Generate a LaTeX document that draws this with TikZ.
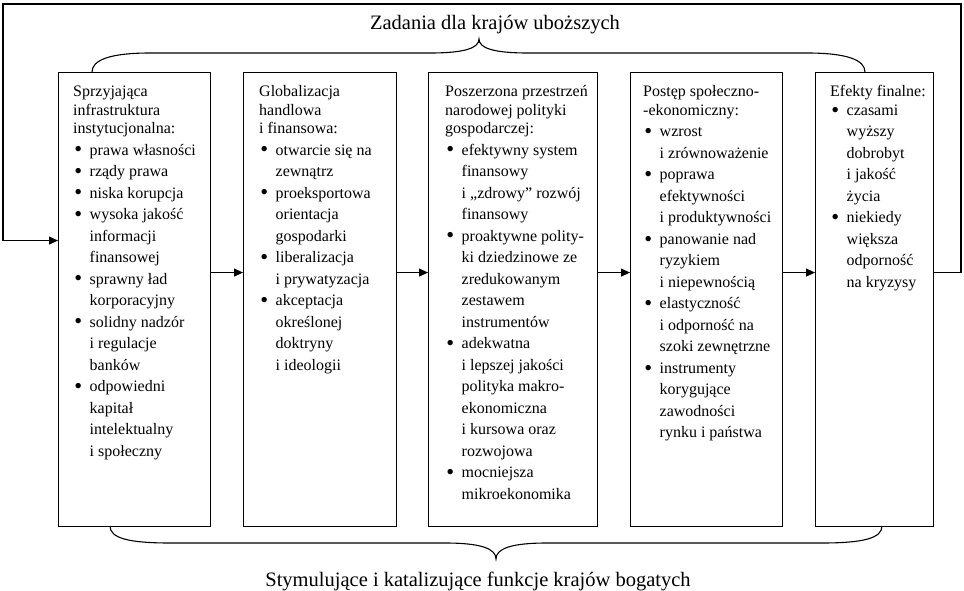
\documentclass[tikz,border=0pt]{standalone}
\usepackage{fontspec}
\setmainfont{Liberation Serif}
\usetikzlibrary{arrows.meta}
\newcommand{\bl}[1]{\makebox[16.5pt][l]{\hspace{1.2pt}\raisebox{-1.8pt}{\scalebox{1.4}{\textbullet}}}#1}
\newcommand{\cl}[1]{\hspace*{16.5pt}#1}
\newcommand{\nl}{\\[3.2pt]}
\newcommand{\boxtext}[1]{\begin{minipage}[t]{200pt}\fontsize{16}{18.3}\selectfont\raggedright #1\end{minipage}}
\tikzset{
  box/.style={draw, line width=1.1pt, anchor=north west, minimum height=454pt, inner sep=0pt},
  txt/.style={anchor=base west, inner sep=0pt},
  arr/.style={line width=1.1pt, -{Triangle[length=9pt,width=8pt]}},
  bracepath/.style={line width=1.1pt},
  lbl/.style={font=\fontsize{20.5}{24}\selectfont, inner sep=0pt, anchor=base}
}
\begin{document}
\begin{tikzpicture}[x=1pt,y=-1pt]
\useasboundingbox (0,0) rectangle (964,591);
% boxes
\node[box, minimum width=152pt] (b1) at (58,72) {};
\node[box, minimum width=153pt] (b2) at (243,72) {};
\node[box, minimum width=169pt] (b3) at (428,72) {};
\node[box, minimum width=152pt] (b4) at (630,72) {};
\node[box, minimum width=118pt] (b5) at (815,72) {};
% texts
\node[txt] (t1) at ([xshift=15pt,yshift=-25pt]b1.north west) {\boxtext{%
Sprzyjająca\\
infrastruktura\\
instytucjonalna:\nl
\bl{prawa własności}\nl
\bl{rządy prawa}\nl
\bl{niska korupcja}\nl
\bl{wysoka jakość}\nl
\cl{informacji}\nl
\cl{finansowej}\nl
\bl{sprawny ład}\nl
\cl{korporacyjny}\nl
\bl{solidny nadzór}\nl
\cl{i regulacje}\nl
\cl{banków}\nl
\bl{odpowiedni}\nl
\cl{kapitał}\nl
\cl{intelektualny}\nl
\cl{i społeczny}}};
\node[txt] (t2) at ([xshift=16pt,yshift=-25pt]b2.north west) {\boxtext{%
Globalizacja\\
handlowa\\
i finansowa:\nl
\bl{otwarcie się na}\nl
\cl{zewnątrz}\nl
\bl{proeksportowa}\nl
\cl{orientacja}\nl
\cl{gospodarki}\nl
\bl{liberalizacja}\nl
\cl{i prywatyzacja}\nl
\bl{akceptacja}\nl
\cl{określonej}\nl
\cl{doktryny}\nl
\cl{i ideologii}}};
\node[txt] (t3) at ([xshift=17pt,yshift=-25pt]b3.north west) {\boxtext{%
Poszerzona przestrzeń\\
narodowej polityki\\
gospodarczej:\nl
\bl{efektywny system}\nl
\cl{finansowy}\nl
\cl{i „zdrowy” rozwój}\nl
\cl{finansowy}\nl
\bl{proaktywne polity-}\nl
\cl{ki dziedzinowe ze}\nl
\cl{zredukowanym}\nl
\cl{zestawem}\nl
\cl{instrumentów}\nl
\bl{adekwatna}\nl
\cl{i lepszej jakości}\nl
\cl{polityka makro-}\nl
\cl{ekonomiczna}\nl
\cl{i kursowa oraz}\nl
\cl{rozwojowa}\nl
\bl{mocniejsza}\nl
\cl{mikroekonomika}}};
\node[txt] (t4) at ([xshift=13pt,yshift=-25pt]b4.north west) {\boxtext{%
Postęp społeczno-\\
-ekonomiczny:\nl
\bl{wzrost}\nl
\cl{i zrównoważenie}\nl
\bl{poprawa}\nl
\cl{efektywności}\nl
\cl{i produktywności}\nl
\bl{panowanie nad}\nl
\cl{ryzykiem}\nl
\cl{i niepewnością}\nl
\bl{elastyczność}\nl
\cl{i odporność na}\nl
\cl{szoki zewnętrzne}\nl
\bl{instrumenty}\nl
\cl{korygujące}\nl
\cl{zawodności}\nl
\cl{rynku i państwa}}};
\node[txt] (t5) at ([xshift=15pt,yshift=-25pt]b5.north west) {\boxtext{%
Efekty finalne:\\
\bl{czasami}\nl
\cl{wyższy}\nl
\cl{dobrobyt}\nl
\cl{i jakość}\nl
\cl{życia}\nl
\bl{niekiedy}\nl
\cl{większa}\nl
\cl{odporność}\nl
\cl{na kryzysy}}};
% labels
\node[lbl] (top) at (495,30) {Zadania dla krajów uboższych};
\node[lbl] (bot) at (478,586) {Stymulujące i katalizujące funkcje krajów bogatych};
% connectors
\draw[arr] ([yshift=27pt]b1.east) -- ([yshift=27pt]b2.west);
\draw[arr] ([yshift=27pt]b2.east) -- ([yshift=27pt]b3.west);
\draw[arr] ([yshift=27pt]b3.east) -- ([yshift=27pt]b4.west);
\draw[arr] ([yshift=27pt]b4.east) -- ([yshift=27pt]b5.west);
\coordinate (tr) at (961,4);
\coordinate (tl) at (3,4);
\draw[arr] ([yshift=27pt]b5.east) -| (tr) -- (tl) |- ([yshift=59pt]b1.west);
% braces
\draw[bracepath] (92,72) .. controls (92,60) and (110,53) .. (150,53) -- (430,53)
  .. controls (465,53) and (479,48) .. (479,39)
  .. controls (479,48) and (493,53) .. (528,53) -- (807,53)
  .. controls (847,53) and (865,60) .. (865,72);
\draw[bracepath] (110,526) .. controls (110,538) and (128,543) .. (170,543) -- (445,543)
  .. controls (482,543) and (496,549) .. (496,559)
  .. controls (496,549) and (510,543) .. (547,543) -- (822,543)
  .. controls (864,543) and (882,538) .. (882,526);
\end{tikzpicture}
\end{document}
